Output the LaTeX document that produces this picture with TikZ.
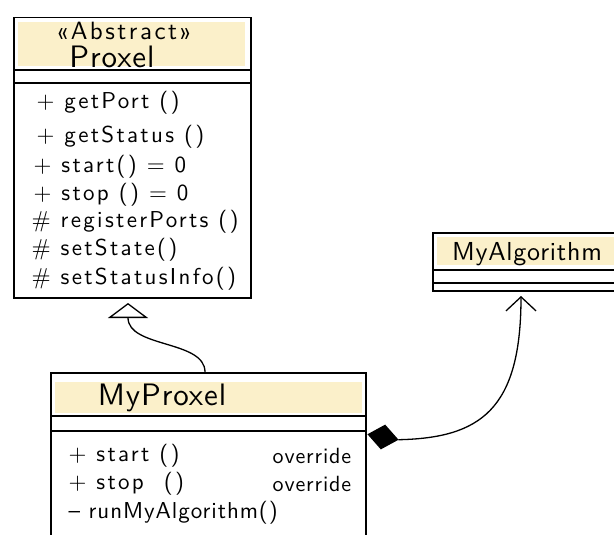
\documentclass[tikz,border=0pt]{standalone}
\usepackage{fontspec}
\usetikzlibrary{arrows.meta,shapes.geometric}
\definecolor{hdr}{HTML}{FBF0CA}
\newfontfamily\handfont{lmsans10-regular.otf}[LetterSpace=10]
\newfontfamily\notefont{lmsans10-regular.otf}[LetterSpace=4]
\newfontfamily\titlefont{lmsans10-regular.otf}[LetterSpace=3]
\begin{document}
\begin{tikzpicture}[x=1pt,y=-1pt,line width=1.3pt,
  hand/.style={font=\handfont\fontsize{23}{26}\selectfont},
  note/.style={font=\notefont\fontsize{22}{26}\selectfont,anchor=west,inner sep=0pt},
  title/.style={font=\titlefont\fontsize{31}{34}\selectfont},
  member/.style={hand,anchor=west,inner sep=0pt},
  umlbox/.style={draw,line width=1.5pt,inner sep=0pt,anchor=north west},
  rule/.style={line width=1.3pt}]
\useasboundingbox (0,0) rectangle (614,535);
\clip (0,0) rectangle (614,535);

% abstract base class
\fill[hdr] (18,22) rectangle (245,66);
\node[umlbox,minimum width=237pt,minimum height=280pt] (proxel) at (13,17) {};
\draw[rule] ([yshift=-53pt]proxel.north west) -- ([yshift=-53pt]proxel.north east);
\draw[rule] ([yshift=-66pt]proxel.north west) -- ([yshift=-66pt]proxel.north east);
\node[hand,font=\handfont\fontsize{25}{28}\selectfont] (stereo) at (124,31) {«Abstract»};
\node[title] (pname) at (112,57) {Proxel};
\node[member] (m1) at (36,103) {+ getPort ()};
\node[member] (m2) at (36,137) {+ getStatus ()};
\node[member] (m3) at (33,167) {+ start() = 0};
\node[member] (m4) at (33,195) {+ stop () = 0};
\node[member] (m5) at (31,222) {\# registerPorts ()};
\node[member] (m6) at (31,250) {\# setState()};
\node[member] (m7) at (31,279) {\# setStatusInfo()};

% concrete class
\fill[hdr] (55,382) rectangle (362,413);
\node[umlbox,minimum width=315pt,minimum height=175pt] (myproxel) at (50,372) {};
\draw[rule] ([yshift=-44pt]myproxel.north west) -- ([yshift=-44pt]myproxel.north east);
\draw[rule] ([yshift=-59pt]myproxel.north west) -- ([yshift=-59pt]myproxel.north east);
\node[title] (mpname) at (162,398) {MyProxel};
\node[member] (q1) at (68,456) {+ start ()};
\node[note] (o1) at (272,456) {override};
\node[member] (q2) at (68,484) {+ stop \ ()};
\node[note] (o2) at (272,484) {override};
\node[note,font=\notefont\fontsize{23}{26}\selectfont] (q3) at (68,513) {– runMyAlgorithm()};

% composed class
\fill[hdr] (437,237) rectangle (614,265);
\node[umlbox,minimum width=200pt,minimum height=58pt] (algo) at (432,232) {};
\draw[rule] ([yshift=-38pt]algo.north west) -- ([yshift=-38pt]algo.north east);
\draw[rule] ([yshift=-51pt]algo.north west) -- ([yshift=-51pt]algo.north east);
\node[title,font=\titlefont\fontsize{26}{30}\selectfont] (aname) at (527,254) {MyAlgorithm};

% generalisation
\coordinate (gen) at (128,297);
\draw[-{Triangle[open,length=15pt,width=40pt,line width=1.3pt]},shorten >=6pt]
  (myproxel.north -| 205,0) .. controls (205,340) and (128,348) .. (gen);

% composition
\node[diamond,draw,fill=black,minimum width=30pt,minimum height=24pt,inner sep=0pt,rotate=-10] (comp) at (383,437) {};
\coordinate (use) at (521,290);
\draw[-{Straight Barb[length=14pt,width=30pt,line width=1.3pt]},shorten >=6pt]
  (comp.east) .. controls (480,438) and (521,410) .. (use);
\end{tikzpicture}
\end{document}
